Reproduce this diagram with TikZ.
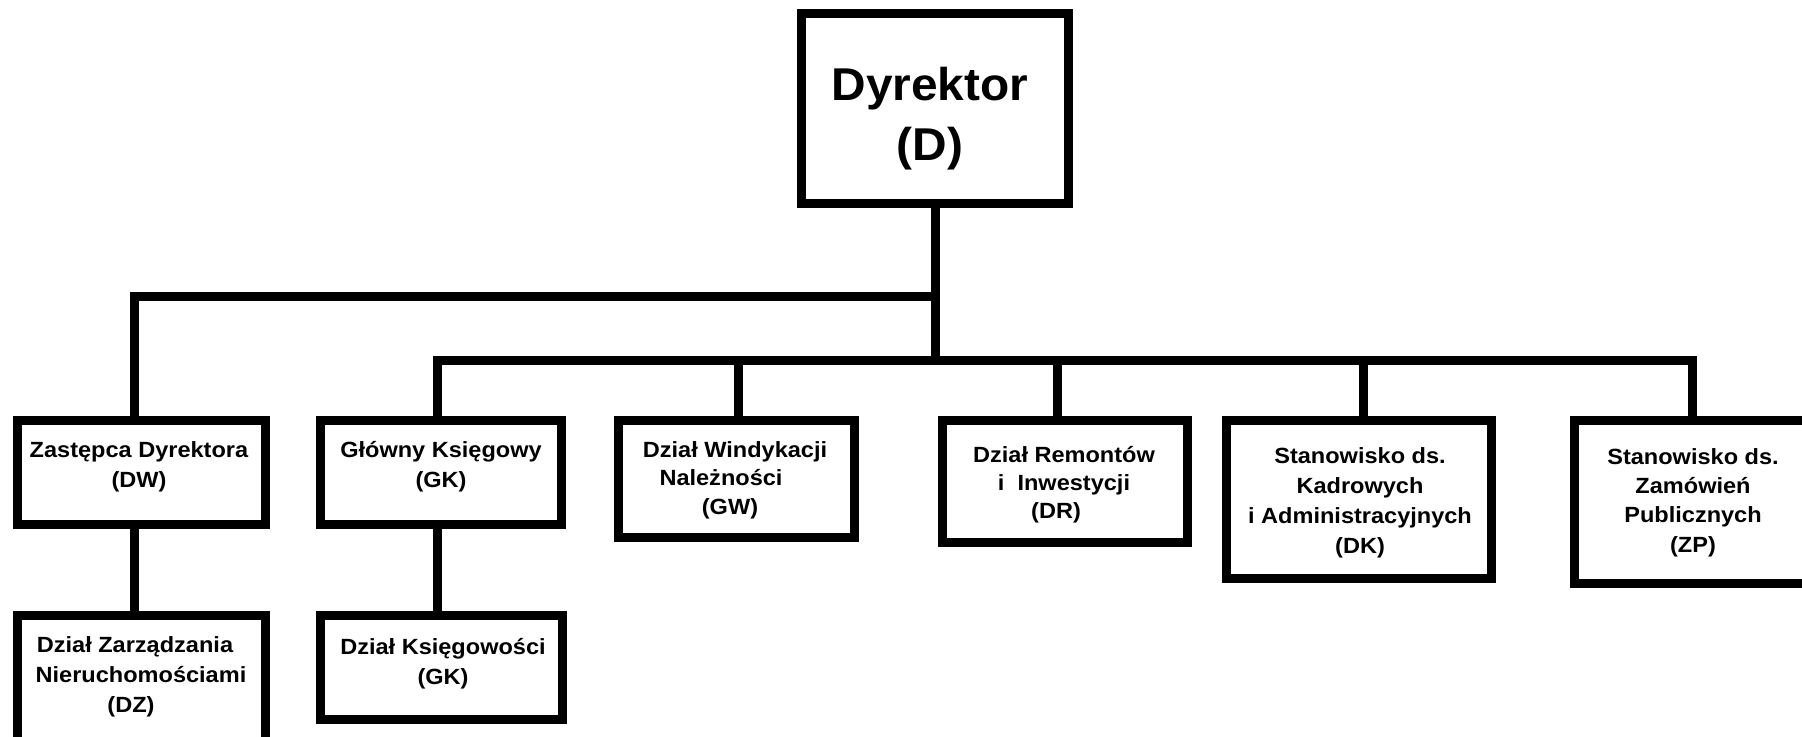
\documentclass[tikz,border=0pt]{standalone}
\usepackage{fontspec}
\setmainfont{Liberation Sans}
\newfontfamily\smallfnt{Liberation Sans}[FakeStretch=1.07]
\newfontfamily\bigfnt{Liberation Sans}[FakeStretch=1.04]
\begin{document}
\begin{tikzpicture}[x=0.5pt,y=-0.5pt,
  box/.style={draw, line width=4.5pt, rectangle, inner sep=0pt, line join=miter},
  conn/.style={line width=4.5pt, line join=miter},
  lbl/.style={anchor=base, align=center, inner sep=0pt, font=\smallfnt\bfseries\fontsize{11pt}{15pt}\selectfont},
  biglbl/.style={anchor=base, align=center, inner sep=0pt, font=\bigfnt\bfseries\fontsize{23pt}{30pt}\selectfont}]
\useasboundingbox (0,0) rectangle (1802,736);
\fill[white] (0,0) rectangle (1802,736);
\clip (0,0) rectangle (1802,736);

% boxes
\node[box, minimum width=133.5pt, minimum height=95pt] (D) at (935,108.5) {};
\node[box, minimum width=124pt, minimum height=52pt] (DW) at (141.5,472.5) {};
\node[box, minimum width=124pt, minimum height=70pt] (DZ) at (141.5,685.5) {};
\node[box, minimum width=120.5pt, minimum height=52pt] (GK) at (441,472.5) {};
\node[box, minimum width=121pt, minimum height=52pt] (DKs) at (441.5,667.5) {};
\node[box, minimum width=118pt, minimum height=58.5pt] (GW) at (736.5,479) {};
\node[box, minimum width=122.5pt, minimum height=61pt] (DR) at (1065,481.5) {};
\node[box, minimum width=132.5pt, minimum height=79pt] (DK) at (1359,499.5) {};
\node[box, minimum width=118.5pt, minimum height=81.5pt] (ZP) at (1693,502) {};

% labels (anchor base = baseline of the last line)
\node[biglbl] (tD) at (930,160) {Dyrektor\\(D)};
\node[lbl] (tDW) at (139,487) {Zastępca Dyrektora\\(DW)};
\node[lbl] (tDZ) at (141,712) {Dział Zarządzania\rule{6pt}{0pt}\\Nieruchomościami\\(DZ)\rule{10pt}{0pt}};
\node[lbl] (tGK) at (441,487) {Główny Księgowy\\(GK)};
\node[lbl] (tDKs) at (443,684) {Dział Księgowości\\(GK)};
\node[lbl, font=\smallfnt\bfseries\fontsize{11pt}{14.25pt}\selectfont] (tGW) at (735,514) {Dział Windykacji\\Należności\rule{14pt}{0pt}\\(GW)\rule{5pt}{0pt}};
\node[lbl, font=\smallfnt\bfseries\fontsize{11pt}{14pt}\selectfont] (tDR) at (1064,518) {Dział Remontów\\i\ \ Inwestycji\\(DR)\rule{8pt}{0pt}};
\node[lbl] (tDK) at (1360,553) {Stanowisko ds.\\Kadrowych\\i Administracyjnych\\(DK)};
\node[lbl, font=\smallfnt\bfseries\fontsize{11pt}{14.6pt}\selectfont] (tZP) at (1693,552) {Stanowisko ds.\\Zamówień\\Publicznych\\(ZP)};

% connectors
\coordinate (b1L) at (134,296);
\coordinate (b2L) at (437,360);
\coordinate (b2R) at (1692,360);
\coordinate (xGW) at (738,360);
\coordinate (xDR) at (1057,360);
\coordinate (xDK) at (1363,360);

\draw[conn] (D.south) -- (D.south |- b2L);
\draw[conn] (D.south |- b1L) -- (b1L) -- (b1L |- DW.north);
\draw[conn] (b2L |- GK.north) -- (b2L) -- (b2R) -- (b2R |- ZP.north);
\draw[conn] (xGW) -- (xGW |- GW.north);
\draw[conn] (xDR) -- (xDR |- DR.north);
\draw[conn] (xDK) -- (xDK |- DK.north);
\draw[conn] (b1L |- DW.south) -- (b1L |- DZ.north);
\draw[conn] (b2L |- GK.south) -- (b2L |- DKs.north);
\end{tikzpicture}
\end{document}
